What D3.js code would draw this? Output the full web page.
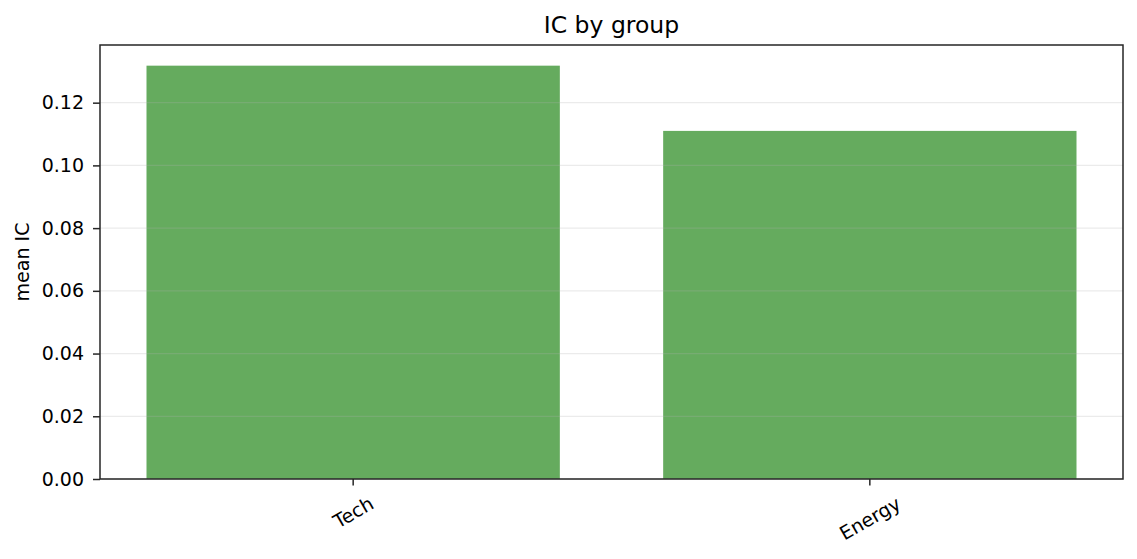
<!DOCTYPE html>
<html>
<head>
<meta charset="utf-8">
<script src="https://cdn.jsdelivr.net/npm/d3@7"></script>
<style>
  body { margin: 0; background: #fff; }
  text { font-family: "DejaVu Sans", sans-serif; fill: #000; }
</style>
</head>
<body>
<script>
// data
var groups = ["Tech", "Energy"];
var meanIC = [0.1318, 0.1110];
var yTicks = [0, 0.02, 0.04, 0.06, 0.08, 0.10, 0.12];

var width = 1137, height = 559;
var margin = {top: 45, right: 14, bottom: 80, left: 100};
var innerW = width - margin.left - margin.right;
var innerH = height - margin.top - margin.bottom;

var svg = d3.select("body").append("svg")
    .attr("width", width)
    .attr("height", height);

var g = svg.append("g")
    .attr("transform", "translate(" + margin.left + "," + margin.top + ")");

var x = d3.scaleBand()
    .domain(groups)
    .range([0, innerW])
    .paddingInner(0.2)
    .paddingOuter(0.09);

var y = d3.scaleLinear()
    .domain([0, d3.max(meanIC) * 1.05])
    .range([innerH, 0]);

/*======== bars ========*/
g.selectAll("rect.bar")
    .data(groups)
    .enter().append("rect")
    .attr("class", "bar")
    .attr("x", function(d) { return x(d); })
    .attr("width", x.bandwidth())
    .attr("y", function(d, i) { return y(meanIC[i]); })
    .attr("height", function(d, i) { return innerH - y(meanIC[i]); })
    .attr("fill", "#65ab5e");

/*======== grid (drawn over bars, faint) ========*/
g.selectAll("line.grid")
    .data(yTicks)
    .enter().append("line")
    .attr("class", "grid")
    .attr("x1", 0)
    .attr("x2", innerW)
    .attr("y1", function(d) { return y(d); })
    .attr("y2", function(d) { return y(d); })
    .attr("stroke", "#b0b0b0")
    .attr("stroke-opacity", 0.25)
    .attr("stroke-width", 1.3);

/*======== axes ========*/
var yAxis = g.append("g")
    .call(d3.axisLeft(y).tickValues(yTicks).tickFormat(d3.format(".2f"))
        .tickSize(7).tickPadding(9));
yAxis.select(".domain").remove();
yAxis.selectAll(".tick line").attr("stroke", "#262626").attr("stroke-width", 1.5);
yAxis.selectAll(".tick text")
    .style("font-size", "19px")
    .style("font-family", "DejaVu Sans")
    .attr("fill", "#000");

var xAxis = g.append("g")
    .attr("transform", "translate(0," + innerH + ")")
    .call(d3.axisBottom(x).tickSize(6.5).tickFormat(""));
xAxis.select(".domain").remove();
xAxis.selectAll(".tick line").attr("stroke", "#262626").attr("stroke-width", 1.5);

// rotated tick labels, centred under each tick
var labelTop = 13;
xAxis.selectAll(".tick").each(function(d) {
    var t = d3.select(this).append("text")
        .text(d)
        .attr("text-anchor", "middle")
        .attr("dominant-baseline", "central")
        .style("font-size", "19px")
        .attr("fill", "#000");
    var len = t.node().getComputedTextLength();
    var half = (len * 0.5 + 22 * 0.866) / 2;
    t.attr("transform", "translate(0," + (labelTop + half) + ") rotate(-30)");
});

// frame
g.append("rect")
    .attr("x", 0).attr("y", 0)
    .attr("width", innerW).attr("height", innerH)
    .attr("fill", "none")
    .attr("stroke", "#262626")
    .attr("stroke-width", 1.5);

/*======== labels ========*/
svg.append("text")
    .attr("x", margin.left + innerW / 2)
    .attr("y", 33)
    .attr("text-anchor", "middle")
    .style("font-size", "23.5px")
    .text("IC by group");

svg.append("text")
    .attr("transform", "translate(28.5," + (margin.top + innerH / 2) + ") rotate(-90)")
    .attr("text-anchor", "middle")
    .style("font-size", "19px")
    .text("mean IC");
</script>
</body>
</html>
